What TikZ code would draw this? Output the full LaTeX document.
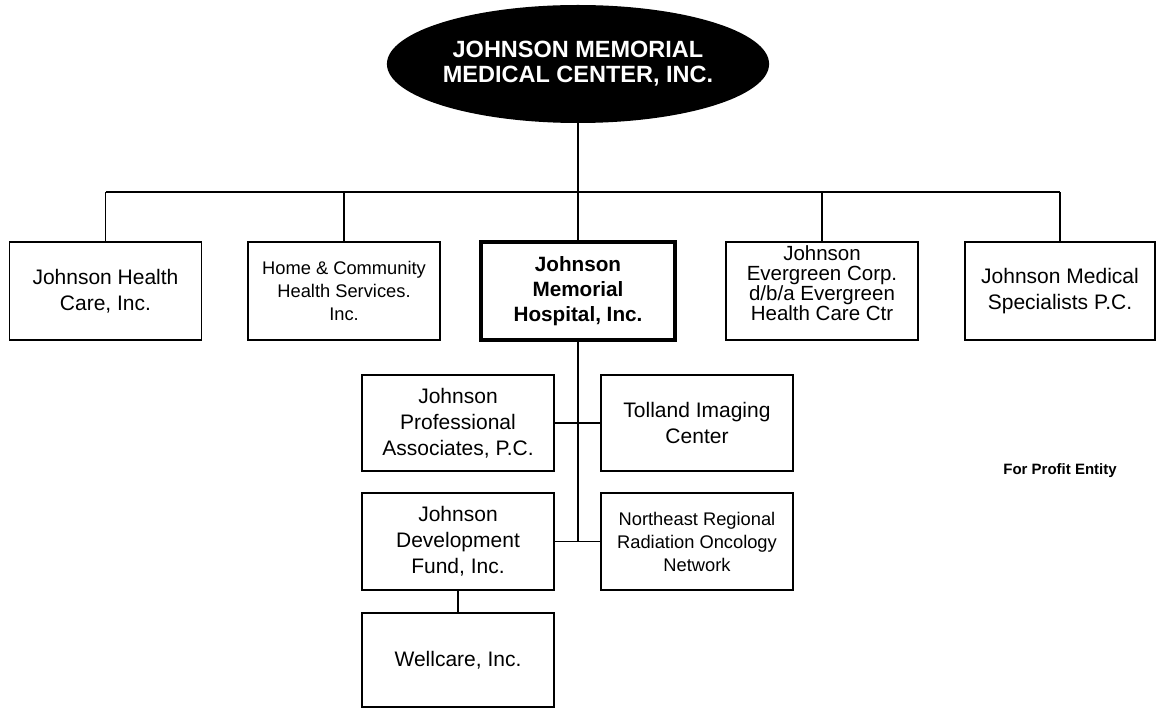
\documentclass[tikz,border=0pt]{standalone}
\usepackage{fontspec}
\setmainfont{Liberation Sans}
\usetikzlibrary{shapes.geometric}

\begin{document}
\begin{tikzpicture}[x=1pt, y=-1pt,
  unit/.style={draw, line width=1.8pt, minimum width=192pt, minimum height=98pt,
    inner sep=2pt, align=center, font=\fontsize{21}{26}\selectfont},
  small/.style={font=\fontsize{18.3}{23}\selectfont},
  link/.style={line width=1.3pt}]
  \useasboundingbox (0,0) rectangle (1156,708);
  \coordinate (rail) at (0,192);
  \coordinate (spine) at (578,542);
  % parent
  \node[ellipse, fill=black, minimum width=287pt, minimum height=118pt, inner sep=0pt,
    text=white, align=center, font=\fontsize{23.5}{25}\selectfont\bfseries] (top) at (578,64)
    {JOHNSON MEMORIAL\\MEDICAL CENTER, INC.};
  % first row
  \node[unit] (hcare) at (105.5,291) {Johnson Health\\Care, Inc.};
  \node[unit, small] (hcs) at (344,291) {Home \& Community\\Health Services.\\Inc.};
  \node[unit, line width=4pt, minimum width=194pt, font=\fontsize{20.7}{25}\selectfont\bfseries] (jmh) at (578,291)
    {Johnson\\Memorial\\Hospital, Inc.};
  \node[unit, font=\fontsize{20.5}{20}\selectfont, text depth=16pt] (evg) at (822,291)
    {Johnson\\Evergreen Corp.\\d/b/a Evergreen\\Health Care Ctr};
  \node[unit, minimum width=190pt] (jms) at (1060,291) {Johnson Medical\\Specialists P.C.};
  % hospital subsidiaries
  \node[unit, minimum height=96pt] (jpa) at (458,423) {Johnson\\Professional\\Associates, P.C.};
  \node[unit, minimum height=96pt] (tic) at (697,423) {Tolland Imaging\\Center};
  \node[unit, minimum height=97pt] (jdf) at (458,541.5) {Johnson\\Development\\Fund, Inc.};
  \node[unit, small, minimum height=97pt] (nrr) at (697,541.5)
    {Northeast Regional\\Radiation Oncology\\Network};
  \node[unit, minimum height=94pt] (wel) at (458,660) {Wellcare, Inc.};
  \node[font=\fontsize{15}{18}\selectfont\bfseries] (fpe) at (1060,471) {For Profit Entity};
  % connectors
  \draw[link] (top.south) -- (top.south |- rail);
  \draw[link] (hcare.north |- rail) -- (jms.north |- rail);
  \foreach \n in {hcare,hcs,jmh,evg,jms}
    \draw[link] (\n.north) -- (\n.north |- rail);
  \draw[link] (jmh.south) -- (spine);
  \draw[link] (jpa.east) -- (tic.west);
  \draw[link] (jdf.east) -- (nrr.west);
  \draw[link] (jdf.south) -- (wel.north);
\end{tikzpicture}
\end{document}
